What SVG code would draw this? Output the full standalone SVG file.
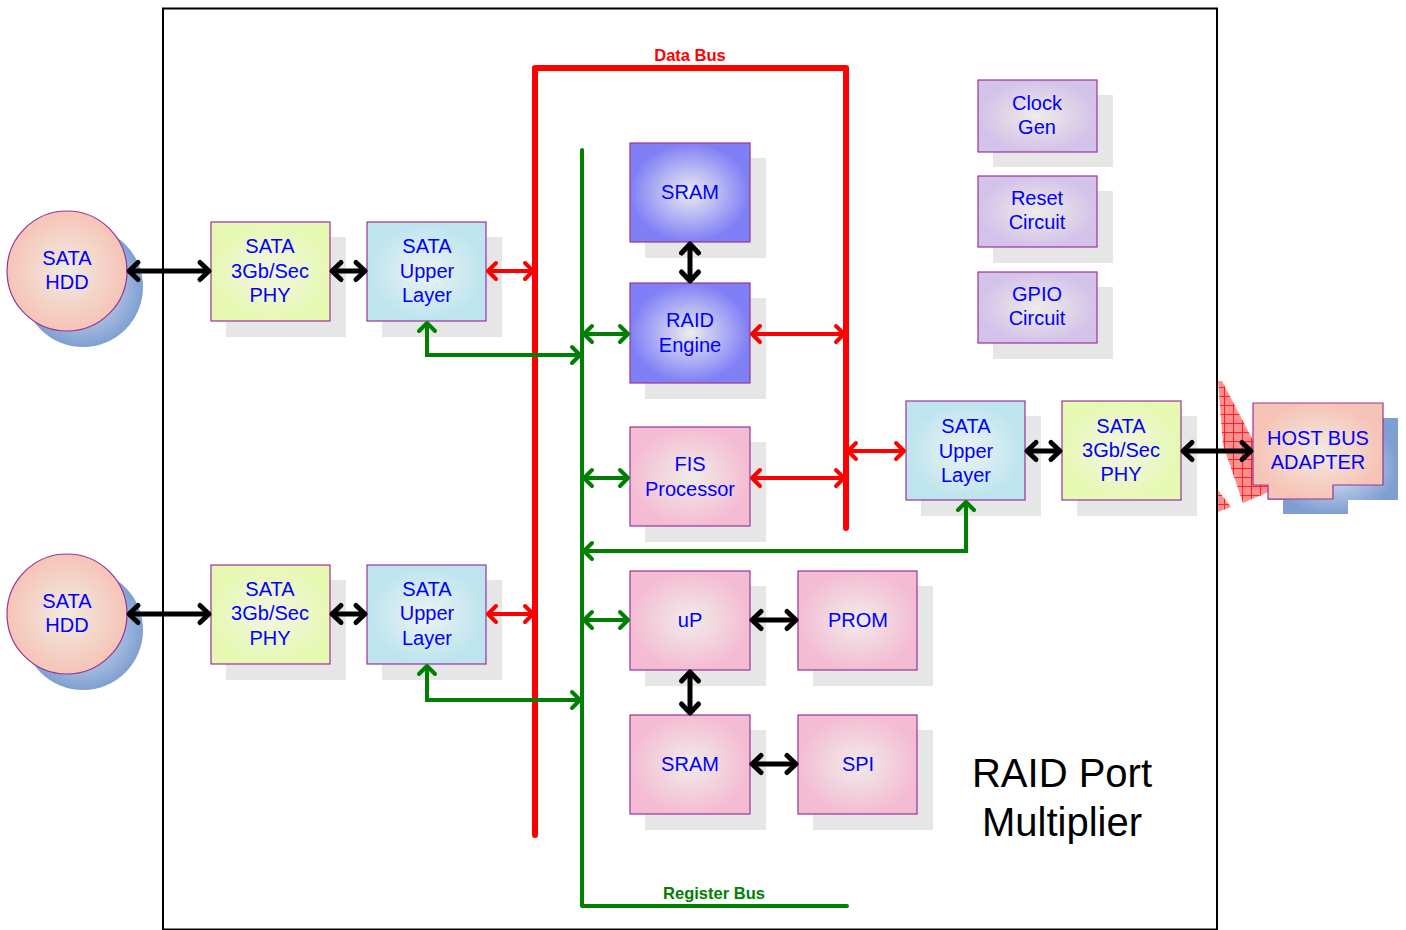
<svg xmlns="http://www.w3.org/2000/svg" width="1406" height="930" viewBox="0 0 1406 930">
<style>
text{font-family:"Liberation Sans",Arial,sans-serif;text-anchor:middle}
.t{font-size:20px;fill:#0000ff}
.box{stroke:#993399;stroke-width:1.2}
.sh{fill:#e6e6e6}
.blk{stroke:#000;stroke-width:5;fill:none;marker-start:url(#ak);marker-end:url(#ak)}
.red{stroke:#ff0000;stroke-width:4;fill:none;marker-start:url(#ar);marker-end:url(#ar)}
.grn{stroke:#008000;stroke-width:4;fill:none;marker-start:url(#ag);marker-end:url(#ag)}
</style>
<defs>
<radialGradient id="gPhy"><stop offset="0" stop-color="#f4f6e6"/><stop offset="1" stop-color="#e6f8b2"/></radialGradient>
<radialGradient id="gUl"><stop offset="0" stop-color="#ecf3f3"/><stop offset="1" stop-color="#bde4ef"/></radialGradient>
<radialGradient id="gBlue"><stop offset="0" stop-color="#ececf2"/><stop offset="1" stop-color="#7f7ff6"/></radialGradient>
<radialGradient id="gPink"><stop offset="0" stop-color="#f1ece8"/><stop offset="1" stop-color="#f4bcd3"/></radialGradient>
<radialGradient id="gPur"><stop offset="0" stop-color="#eeece8"/><stop offset="1" stop-color="#d3c2ea"/></radialGradient>
<radialGradient id="gPeach"><stop offset="0" stop-color="#f1ebe2"/><stop offset="1" stop-color="#f6c4b6"/></radialGradient>
<radialGradient id="gShB"><stop offset="0" stop-color="#e6ecf6"/><stop offset="1" stop-color="#7f9fd2"/></radialGradient>
<pattern id="hatch" width="9" height="9" patternUnits="userSpaceOnUse"><rect width="9" height="9" fill="#ff8f8f"/><path d="M0,0.5H9M0.5,0V9" stroke="#ff2020" stroke-width="1"/></pattern>
<marker id="ak" viewBox="-14 -12 16 24" refX="0" refY="0" markerWidth="16" markerHeight="24" markerUnits="userSpaceOnUse" orient="auto-start-reverse" overflow="visible"><path d="M-9,-8.5 L0,0 L-9,8.5" fill="none" stroke="#000" stroke-width="5" stroke-linecap="round" stroke-linejoin="round"/></marker>
<marker id="ar" viewBox="-14 -12 16 24" refX="0" refY="0" markerWidth="16" markerHeight="24" markerUnits="userSpaceOnUse" orient="auto-start-reverse" overflow="visible"><path d="M-8,-8 L0,0 L-8,8" fill="none" stroke="#ff0000" stroke-width="4" stroke-linecap="round" stroke-linejoin="round"/></marker>
<marker id="ag" viewBox="-14 -12 16 24" refX="0" refY="0" markerWidth="16" markerHeight="24" markerUnits="userSpaceOnUse" orient="auto-start-reverse" overflow="visible"><path d="M-8,-8 L0,0 L-8,8" fill="none" stroke="#008000" stroke-width="4" stroke-linecap="round" stroke-linejoin="round"/></marker>
</defs>
<rect width="1406" height="930" fill="#fff"/>

<!-- hatched shape at right edge -->
<polygon points="1218,381 1222,381 1278,488 1243,503 1223,445" fill="url(#hatch)"/>
<polygon points="1218,490 1231,507 1218,512" fill="url(#hatch)"/>

<rect x="163" y="8.5" width="1054" height="921" fill="none" stroke="#000" stroke-width="2"/>

<!-- buses -->
<g id="buses">
<path d="M535,835 V68 H846 V528" fill="none" stroke="#ff0000" stroke-width="6" stroke-linejoin="round" stroke-linecap="round"/>
<text x="690" y="61" style="font-size:16.5px;font-weight:bold;fill:#ff0000">Data Bus</text>
<path d="M582,150 V906 H847" fill="none" stroke="#008000" stroke-width="4" stroke-linejoin="round" stroke-linecap="round"/>
<text x="714" y="899" style="font-size:16.5px;font-weight:bold;fill:#008000">Register Bus</text>
</g>

<g id="hdd1">
<circle cx="83" cy="287" r="60" fill="url(#gShB)"/>
<circle cx="67" cy="271" r="60" fill="url(#gPeach)" class="box"/>
<text class="t" x="67" y="265">SATA</text><text class="t" x="67" y="289">HDD</text>
</g>
<g id="hdd2">
<circle cx="83" cy="630" r="60" fill="url(#gShB)"/>
<circle cx="67" cy="614" r="60" fill="url(#gPeach)" class="box"/>
<text class="t" x="67" y="608">SATA</text><text class="t" x="67" y="632">HDD</text>
</g>

<g id="phy1">
<rect class="sh" x="226" y="237" width="120" height="100"/>
<rect class="box" x="211" y="222" width="119" height="99" fill="url(#gPhy)"/>
<text class="t" x="270" y="253">SATA</text><text class="t" x="270" y="278">3Gb/Sec</text><text class="t" x="270" y="302">PHY</text>
</g>
<g id="ul1">
<rect class="sh" x="382" y="237" width="120" height="100"/>
<rect class="box" x="367" y="222" width="119" height="99" fill="url(#gUl)"/>
<text class="t" x="427" y="253">SATA</text><text class="t" x="427" y="278">Upper</text><text class="t" x="427" y="302">Layer</text>
</g>
<g id="phy2">
<rect class="sh" x="226" y="580" width="120" height="100"/>
<rect class="box" x="211" y="565" width="119" height="99" fill="url(#gPhy)"/>
<text class="t" x="270" y="596">SATA</text><text class="t" x="270" y="620">3Gb/Sec</text><text class="t" x="270" y="645">PHY</text>
</g>
<g id="ul2">
<rect class="sh" x="382" y="580" width="120" height="100"/>
<rect class="box" x="367" y="565" width="119" height="99" fill="url(#gUl)"/>
<text class="t" x="427" y="596">SATA</text><text class="t" x="427" y="620">Upper</text><text class="t" x="427" y="645">Layer</text>
</g>

<g id="sram1">
<rect class="sh" x="645" y="158" width="121" height="100"/>
<rect class="box" x="630" y="143" width="120" height="99" fill="url(#gBlue)"/>
<text class="t" x="690" y="199">SRAM</text>
</g>
<g id="raid">
<rect class="sh" x="645" y="298" width="121" height="101"/>
<rect class="box" x="630" y="283" width="120" height="100" fill="url(#gBlue)"/>
<text class="t" x="690" y="327">RAID</text><text class="t" x="690" y="352">Engine</text>
</g>
<g id="fis">
<rect class="sh" x="645" y="442" width="121" height="100"/>
<rect class="box" x="630" y="427" width="120" height="99" fill="url(#gPink)"/>
<text class="t" x="690" y="471">FIS</text><text class="t" x="690" y="496">Processor</text>
</g>
<g id="up">
<rect class="sh" x="645" y="586" width="121" height="100"/>
<rect class="box" x="630" y="571" width="120" height="99" fill="url(#gPink)"/>
<text class="t" x="690" y="627">uP</text>
</g>
<g id="prom">
<rect class="sh" x="813" y="586" width="120" height="100"/>
<rect class="box" x="798" y="571" width="119" height="99" fill="url(#gPink)"/>
<text class="t" x="858" y="627">PROM</text>
</g>
<g id="sram2">
<rect class="sh" x="645" y="730" width="121" height="100"/>
<rect class="box" x="630" y="715" width="120" height="99" fill="url(#gPink)"/>
<text class="t" x="690" y="771">SRAM</text>
</g>
<g id="spi">
<rect class="sh" x="813" y="730" width="120" height="100"/>
<rect class="box" x="798" y="715" width="119" height="99" fill="url(#gPink)"/>
<text class="t" x="858" y="771">SPI</text>
</g>

<g id="clock">
<rect class="sh" x="993" y="95" width="120" height="72"/>
<rect class="box" x="978" y="80" width="119" height="72" fill="url(#gPur)"/>
<text class="t" x="1037" y="110">Clock</text><text class="t" x="1037" y="134">Gen</text>
</g>
<g id="reset">
<rect class="sh" x="993" y="191" width="120" height="72"/>
<rect class="box" x="978" y="176" width="119" height="71" fill="url(#gPur)"/>
<text class="t" x="1037" y="205">Reset</text><text class="t" x="1037" y="229">Circuit</text>
</g>
<g id="gpio">
<rect class="sh" x="993" y="287" width="120" height="72"/>
<rect class="box" x="978" y="272" width="119" height="71" fill="url(#gPur)"/>
<text class="t" x="1037" y="301">GPIO</text><text class="t" x="1037" y="325">Circuit</text>
</g>

<g id="ul3">
<rect class="sh" x="921" y="416" width="120" height="100"/>
<rect class="box" x="906" y="401" width="119" height="99" fill="url(#gUl)"/>
<text class="t" x="966" y="433">SATA</text><text class="t" x="966" y="458">Upper</text><text class="t" x="966" y="482">Layer</text>
</g>
<g id="phy3">
<rect class="sh" x="1077" y="416" width="120" height="100"/>
<rect class="box" x="1062" y="401" width="119" height="99" fill="url(#gPhy)"/>
<text class="t" x="1121" y="433">SATA</text><text class="t" x="1121" y="457">3Gb/Sec</text><text class="t" x="1121" y="481">PHY</text>
</g>
<g id="hba">
<path d="M1268,418 H1398 V500 H1348 V514 H1283 V500 H1268 Z" fill="url(#gShB)"/>
<path class="box" d="M1253,403 H1383 V485 H1333 V499 H1268 V485 H1253 Z" fill="url(#gPeach)"/>
<text class="t" x="1318" y="445">HOST BUS</text><text class="t" x="1318" y="469">ADAPTER</text>
</g>

<g id="connectors">
<path class="blk" d="M129,271 H209"/>
<path class="blk" d="M332,271 H365"/>
<path class="red" d="M488,271 H533"/>
<path class="grn" d="M427,323 V355 H580"/>
<path class="blk" d="M129,614 H209"/>
<path class="blk" d="M332,614 H365"/>
<path class="red" d="M488,614 H533"/>
<path class="grn" d="M427,666 V700 H580"/>
<path class="blk" d="M690,244 V281"/>
<path class="grn" d="M584,334 H628"/>
<path class="red" d="M752,334 H844"/>
<path class="grn" d="M584,478 H628"/>
<path class="red" d="M752,478 H844"/>
<path class="red" d="M848,451 H904"/>
<path class="grn" d="M966,502 V551 H584"/>
<path class="blk" d="M1027,451 H1060"/>
<path class="blk" d="M1183,451 H1251"/>
<path class="grn" d="M584,620 H628"/>
<path class="blk" d="M752,620 H796"/>
<path class="blk" d="M690,672 V713"/>
<path class="blk" d="M752,764 H796"/>
</g>

<text x="1062" y="787" style="font-size:40px;fill:#000">RAID Port</text>
<text x="1062" y="836" style="font-size:40px;fill:#000">Multiplier</text>
</svg>
